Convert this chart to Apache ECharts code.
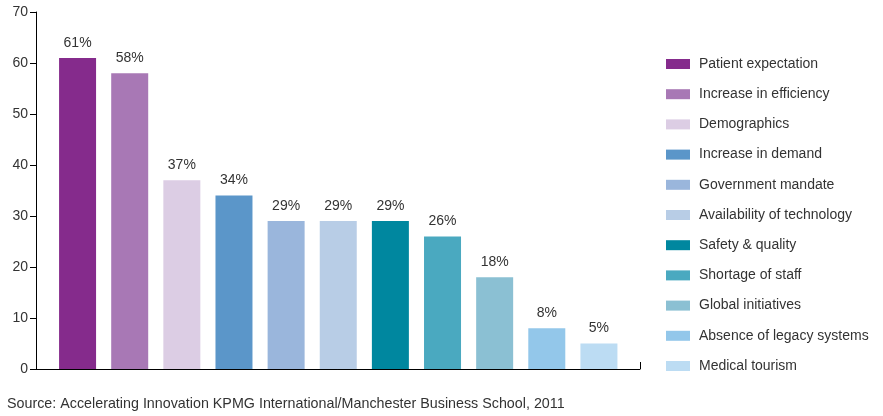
<!DOCTYPE html>
<html><head><meta charset="utf-8">
<script src="https://cdn.jsdelivr.net/npm/echarts@6/dist/echarts.min.js"></script>
<style>html,body{margin:0;padding:0;background:#fff}#c{width:883px;height:416px}</style>
</head><body><div id="c"></div>
<script>
const categories = ["Patient expectation","Increase in efficiency","Demographics","Increase in demand","Government mandate","Availability of technology","Safety & quality","Shortage of staff","Global initiatives","Absence of legacy systems","Medical tourism"];
const values = [61,58,37,34,29,29,29,26,18,8,5];
const colors = ["#852b8c","#a878b5","#dccde4","#5b96c9","#9ab6dc","#b8cde6","#00879f","#4aa9c0","#8bc0d3","#93c7ea","#bcdcf3"];
const yTicks = {min:0,max:70,interval:10};
const sourceText = "Source: Accelerating Innovation KPMG International/Manchester Business School, 2011";

const FONT = "Liberation Sans";
const series = categories.map((name,i)=>({
  name, type:'bar', stack:'all', xAxisIndex:0, yAxisIndex:0,
  barWidth:37, itemStyle:{color:colors[i]},
  data: categories.map((c,j)=> j===i ? values[i] : '-'),
  label:{show:true, position:'top', distance:8, formatter:p=>p.value+'%', color:'#333', fontSize:14, fontFamily:FONT},
  animation:false
}));
series.push({type:'line', xAxisIndex:1, yAxisIndex:1, data:[], silent:true});

const chart = echarts.init(document.getElementById('c'));
chart.setOption({
  animation:false,
  textStyle:{fontFamily:FONT},
  grid:[
    {left:51.5, top:12, width:573.5, height:357},
    {left:36, top:12, width:604, height:357}
  ],
  xAxis:[
    {type:'category', gridIndex:0, data:categories, axisLine:{show:false}, axisTick:{show:false}, axisLabel:{show:false}},
    {type:'value', gridIndex:1, min:0, max:1, interval:1, axisLine:{lineStyle:{color:'#000',width:1}}, axisTick:{inside:true,length:7,lineStyle:{color:'#000'}}, axisLabel:{show:false}, splitLine:{show:false}}
  ],
  yAxis:[
    {type:'value', gridIndex:0, min:yTicks.min, max:yTicks.max, interval:yTicks.interval, show:false, splitLine:{show:false}},
    {type:'value', gridIndex:1, min:yTicks.min, max:yTicks.max, interval:yTicks.interval,
     axisLine:{show:true,lineStyle:{color:'#000',width:1}}, axisTick:{show:true,length:6,lineStyle:{color:'#000'}},
     axisLabel:{color:'#333',fontSize:14,margin:8,fontFamily:FONT}, splitLine:{show:false}}
  ],
  legend:{
    orient:'vertical', left:661, top:52, itemWidth:24, itemHeight:10, itemGap:16.2,
    icon:'rect', data:categories, selectedMode:false,
    textStyle:{color:'#333',fontSize:14,fontFamily:FONT, padding:[0,0,0,4]}
  },
  title:{text:sourceText, left:2, top:392, textStyle:{color:'#333',fontSize:14.3,fontWeight:'normal',fontFamily:FONT}},
  series
});
</script></body></html>
